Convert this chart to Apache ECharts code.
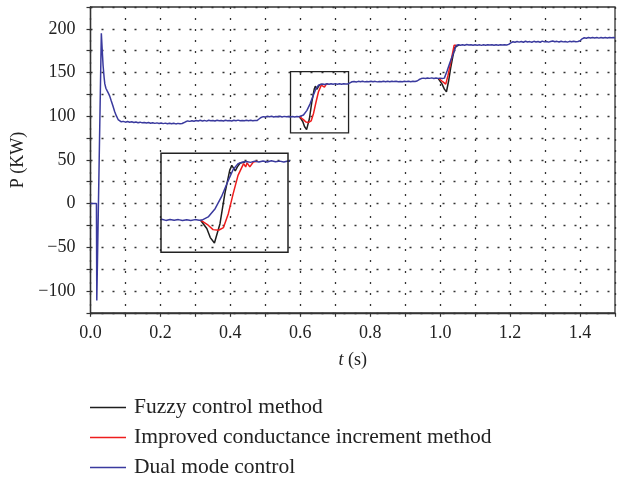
<!DOCTYPE html>
<html>
<head>
<meta charset="utf-8">
<script src="https://cdn.jsdelivr.net/npm/echarts@6/dist/echarts.min.js"></script>
<style>
html,body{margin:0;padding:0;background:#fff;}
#chart{width:618px;height:477px;}
</style>
</head>
<body>
<div id="chart"></div>
<script>
// ---------- DATA ----------
const seriesNames = ['Fuzzy control method', 'Improved conductance increment method', 'Dual mode control'];

const xTickValues = [0, 0.2, 0.4, 0.6, 0.8, 1.0, 1.2, 1.4];
const xTickLabels = ['0.0', '0.2', '0.4', '0.6', '0.8', '1.0', '1.2', '1.4'];
const yTickValues = [-100, -50, 0, 50, 100, 150, 200];
const yTickLabels = ['\u2212100', '\u221250', '0', '50', '100', '150', '200'];

// Dual mode control (full trace)
const tDual = [
  0.000, 0.017, 0.018, 0.031, 0.034, 0.036, 0.039, 0.041, 0.044, 0.047, 0.051, 0.055, 0.059, 0.064, 0.069, 0.074, 0.079, 0.083, 0.088, 0.094,
  0.100, 0.106, 0.112, 0.118, 0.124, 0.130, 0.136, 0.142, 0.148, 0.154, 0.160, 0.166, 0.172, 0.178, 0.184, 0.190, 0.196, 0.202, 0.208, 0.214,
  0.220, 0.226, 0.232, 0.238, 0.244, 0.250, 0.256, 0.262, 0.266, 0.272, 0.278, 0.284, 0.290, 0.296, 0.302, 0.308, 0.314, 0.320, 0.326, 0.332,
  0.338, 0.344, 0.350, 0.356, 0.362, 0.368, 0.374, 0.380, 0.386, 0.392, 0.398, 0.404, 0.410, 0.416, 0.422, 0.428, 0.434, 0.440, 0.446, 0.452,
  0.458, 0.464, 0.470, 0.476, 0.482, 0.488, 0.494, 0.500, 0.506, 0.512, 0.518, 0.524, 0.530, 0.536, 0.542, 0.548, 0.554, 0.560, 0.566, 0.572,
  0.578, 0.584, 0.590, 0.596, 0.600, 0.609, 0.619, 0.628, 0.637, 0.645, 0.652, 0.658, 0.664, 0.670, 0.676, 0.682, 0.688, 0.694, 0.700, 0.706,
  0.712, 0.718, 0.724, 0.730, 0.736, 0.742, 0.748, 0.754, 0.760, 0.766, 0.772, 0.778, 0.784, 0.790, 0.796, 0.802, 0.808, 0.814, 0.820, 0.826,
  0.832, 0.838, 0.844, 0.850, 0.856, 0.862, 0.868, 0.874, 0.880, 0.886, 0.892, 0.898, 0.904, 0.910, 0.916, 0.922, 0.928, 0.934, 0.940, 0.946,
  0.952, 0.958, 0.964, 0.970, 0.976, 0.982, 0.988, 0.994, 1.000, 1.006, 1.012, 1.020, 1.028, 1.036, 1.042, 1.046, 1.052, 1.058, 1.064, 1.070,
  1.076, 1.082, 1.088, 1.094, 1.100, 1.106, 1.112, 1.118, 1.124, 1.130, 1.136, 1.142, 1.148, 1.154, 1.160, 1.166, 1.172, 1.178, 1.184, 1.190,
  1.196, 1.202, 1.208, 1.214, 1.220, 1.226, 1.232, 1.238, 1.244, 1.250, 1.256, 1.262, 1.268, 1.274, 1.280, 1.286, 1.292, 1.298, 1.304, 1.310,
  1.316, 1.322, 1.328, 1.334, 1.340, 1.346, 1.352, 1.358, 1.364, 1.370, 1.376, 1.382, 1.388, 1.394, 1.400, 1.406, 1.412, 1.418, 1.424, 1.430,
  1.436, 1.442, 1.448, 1.454, 1.460, 1.466, 1.472, 1.478, 1.484, 1.490, 1.496, 1.500
];
const pDual = [
  0, 0, -111, 195, 172, 158, 144, 137, 132, 129.5, 126.5, 123, 118, 112, 105.5, 100.3, 96.2, 94.6, 93.6, 94.1,
  93.2, 93.9, 93.1, 93.6, 92.8, 93.4, 92.6, 93.2, 92.4, 92.9, 92.2, 92.8, 92.0, 92.6, 91.8, 92.4, 91.7, 92.2, 91.5, 92.1,
  91.4, 92.0, 91.3, 91.9, 91.2, 91.8, 91.3, 91.7, 91.4, 93.6, 94.6, 94.1, 94.9, 94.3, 95.1, 94.5, 95.3, 94.6, 95.2, 94.4,
  95.4, 94.7, 95.1, 94.5, 95.3, 94.8, 95.2, 94.6, 95.4, 94.9, 95.2, 94.6, 95.3, 94.9, 95.5, 94.8, 95.2, 94.7, 95.4, 94.9,
  95.3, 94.8, 95.2, 95.0, 96.8, 98.6, 99.5, 99.1, 99.8, 99.3, 99.9, 99.2, 99.7, 99.3, 99.9, 99.2, 99.8, 99.3, 99.7, 99.1,
  99.6, 99.2, 99.7, 99.3, 99.4, 101.4, 106.7, 114.2, 123.8, 131.7, 135.5, 136.4, 136.9, 136.3, 137.1, 136.5, 137.2, 136.6, 137.3, 136.7,
  137.1, 136.5, 137.2, 136.8, 137.0, 138.2, 139.4, 139.8, 139.2, 139.9, 139.4, 140.0, 139.3, 139.8, 139.4, 140.1, 139.5, 139.9, 139.3, 139.8,
  139.4, 140.0, 139.5, 139.9, 139.4, 140.0, 139.6, 139.9, 139.4, 139.8, 139.5, 140.1, 139.6, 139.9, 139.5, 140.0, 139.7, 140.3, 142.0, 143.1,
  143.6, 143.1, 143.8, 143.3, 143.9, 143.2, 143.7, 143.3, 143.6, 143.2, 143.6, 152, 161.5, 170, 177, 181, 181.8, 181.2, 181.9, 181.3,
  182.0, 181.4, 181.8, 181.2, 181.9, 181.3, 181.7, 181.1, 181.8, 181.3, 181.9, 181.4, 181.7, 181.2, 181.8, 181.3, 181.9, 181.4, 181.8, 181.5,
  182.2, 184.0, 185.2, 184.6, 185.5, 184.8, 185.6, 184.7, 185.8, 184.9, 185.4, 184.6, 185.7, 185.0, 185.5, 184.7, 185.9, 185.1, 185.6, 184.8,
  185.4, 186.0, 185.2, 185.7, 184.9, 185.8, 185.1, 185.6, 184.8, 185.7, 185.2, 185.9, 185.3, 185.6, 186.4, 188.6, 189.8, 189.3, 190.1, 189.5,
  190.2, 189.6, 190.0, 189.4, 190.1, 189.6, 190.0, 189.5, 190.1, 189.7, 190.0, 189.8
];

// Fuzzy control method (transients where it departs from the dual-mode trace)
const tFuzzy = [0.598, 0.600, 0.607, 0.612, 0.618, 0.620, 0.626, 0.633, 0.640, 0.643, 0.648, 0.651, 0.655, 0.662, null,
                0.994, 0.996, 1.005, 1.012, 1.018, 1.024, 1.030, 1.036, 1.042, 1.045, 1.049, 1.055];
const pFuzzy = [99.3, 99.4, 94.0, 88.2, 84.7, 85.3, 97.1, 116.3, 131.2, 134.4, 130.8, 133.4, 135.9, 136.6, null,
                143.3, 143.5, 137.0, 131.0, 128.0, 140.0, 155.0, 168.0, 178.7, 176.5, 180.5, 181.8];

// Improved conductance increment method
const tImproved = [0.598, 0.600, 0.609, 0.616, 0.624, 0.631, 0.638, 0.645, 0.652, 0.660, 0.663, 0.665, 0.669, 0.674, 0.680, null,
                   0.996, 0.998, 1.007, 1.016, 1.022, 1.030, 1.040, 1.046];
const pImproved = [99.3, 99.4, 96.1, 93.3, 92.9, 94.6, 103.5, 116.3, 128.0, 135.5, 133.4, 136.0, 133.4, 136.5, 137.0, null,
                   143.4, 143.5, 139.5, 136.7, 146.0, 161.0, 181.3, 181.2];

// Zoom rectangle on the main plot and the range shown in the inset
const boxTime = [0.572, 0.738];
const boxPower = [81, 151];
const insetTime = [0.541, 0.724];
const insetPower = [78.8, 142.1];

// ---------- CHART ----------
function zip(t, p) { return t.map((v, i) => (v === null ? [null, null] : [v, p[i]])); }
const dualData = zip(tDual, pDual);
const fuzzyData = zip(tFuzzy, pFuzzy);
const improvedData = zip(tImproved, pImproved);

const FONT = 'Liberation Serif';
const colors = ['#1e1e1e', '#ee1d1d', '#3a3a9e'];

function lookup(vals, labels, v) {
  for (let i = 0; i < vals.length; i++) if (Math.abs(vals[i] - v) < 1e-6) return labels[i];
  return '';
}

const chart = echarts.init(document.getElementById('chart'), null, { renderer: 'canvas' });

function lineSeries(name, data, color, idx, extra) {
  return Object.assign({
    name: name, type: 'line', data: data, xAxisIndex: idx, yAxisIndex: idx,
    showSymbol: false, symbol: 'none', connectNulls: false, clip: true,
    lineStyle: { color: color, width: 1.5 }, itemStyle: { color: color },
    animation: false, silent: true
  }, extra || {});
}

const option = {
  animation: false,
  backgroundColor: '#fff',
  textStyle: { fontFamily: FONT },
  grid: [
    { left: 90.5, top: 7, width: 529, height: 305.8, show: true, borderColor: '#333', borderWidth: 1.3, backgroundColor: 'transparent' },
    { left: 161, top: 153.3, width: 127, height: 99, show: true, borderColor: '#222', borderWidth: 1.5, backgroundColor: 'transparent', z: 5 }
  ],
  xAxis: [
    {
      gridIndex: 0, type: 'value', min: 0, max: 1.5, interval: 0.1,
      name: '{i|t} (s)', nameLocation: 'middle', nameGap: 38,
      nameTextStyle: { fontFamily: FONT, fontSize: 18, color: '#222',
        rich: { i: { fontFamily: FONT, fontStyle: 'italic', fontSize: 18, color: '#222' } } },
      axisLine: { show: true, onZero: false, lineStyle: { color: '#333', width: 1.3 } },
      axisTick: { show: true, inside: false, length: 4, lineStyle: { color: '#333', width: 1.2 } },
      axisLabel: { margin: 11, fontFamily: FONT, fontSize: 18, color: '#222', showMinLabel: true, showMaxLabel: true,
        formatter: v => lookup(xTickValues, xTickLabels, v) },
      splitLine: { show: true, lineStyle: { color: '#333', width: 1.3, type: [2, 9] } }
    },
    { gridIndex: 1, type: 'value', min: insetTime[0], max: insetTime[1], show: false }
  ],
  yAxis: [
    {
      gridIndex: 0, type: 'value', min: -125, max: 225, interval: 25,
      name: 'P (KW)', nameLocation: 'middle', nameGap: 62, nameRotate: 90,
      nameTextStyle: { fontFamily: FONT, fontSize: 18, color: '#222' },
      axisLine: { show: true, onZero: false, lineStyle: { color: '#333', width: 1.3 } },
      axisTick: { show: true, inside: false, length: 4, lineStyle: { color: '#333', width: 1.2 } },
      axisLabel: { margin: 15, fontFamily: FONT, fontSize: 18, color: '#222',
        formatter: v => lookup(yTickValues, yTickLabels, v) },
      splitLine: { show: true, lineStyle: { color: '#333', width: 1.3, type: [2, 9] } }
    },
    { gridIndex: 1, type: 'value', min: insetPower[0], max: insetPower[1], show: false }
  ],
  legend: {
    orient: 'vertical', left: 90, top: 396.5, width: 520, height: 140, itemGap: 8, padding: 0,
    icon: 'rect', itemWidth: 36, itemHeight: 1.5,
    textStyle: { fontFamily: FONT, fontSize: 21.5, lineHeight: 20, color: '#222', padding: [0, 0, 0, 3] },
    data: seriesNames
  },
  series: [
    lineSeries(seriesNames[0], fuzzyData, colors[0], 0),
    lineSeries(seriesNames[1], improvedData, colors[1], 0),
    lineSeries(seriesNames[2], dualData, colors[2], 0, {
      markArea: {
        silent: true,
        itemStyle: { color: 'rgba(0,0,0,0)', borderColor: '#222', borderWidth: 1.3 },
        data: [[{ xAxis: boxTime[0], yAxis: boxPower[0] }, { xAxis: boxTime[1], yAxis: boxPower[1] }]]
      }
    }),
    lineSeries(seriesNames[0], fuzzyData, colors[0], 1),
    lineSeries(seriesNames[1], improvedData, colors[1], 1),
    lineSeries(seriesNames[2], dualData, colors[2], 1)
  ]
};
chart.setOption(option);
</script>
</body>
</html>
